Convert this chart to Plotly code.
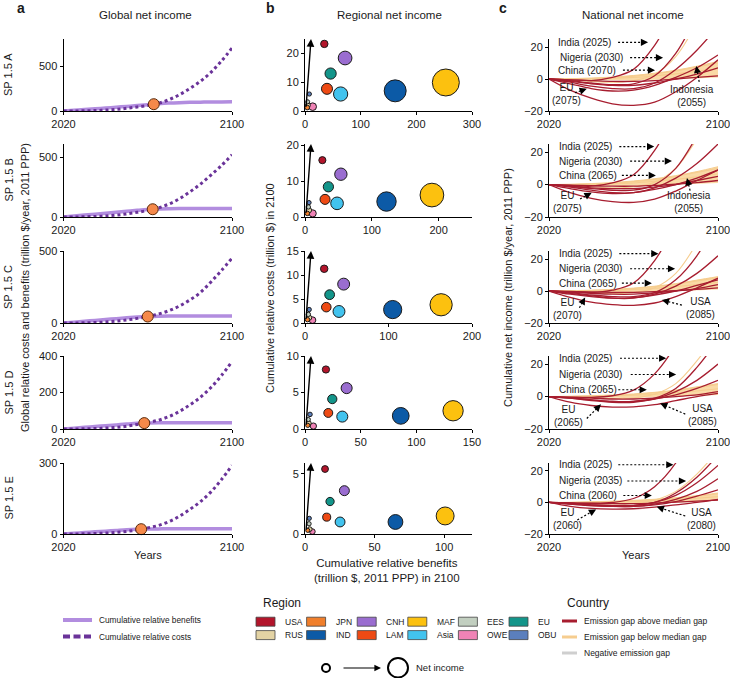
import math
import plotly.graph_objects as go

# ---------------- DATA ----------------
scenarios = ["SP 1.5 A", "SP 1.5 B", "SP 1.5 C", "SP 1.5 D", "SP 1.5 E"]

# Panel a: global cumulative relative benefits / costs (trillion $/yr)
years_a = [2020, 2025, 2030, 2035, 2040, 2045, 2050, 2055, 2060, 2065, 2070, 2075, 2080, 2085, 2090, 2095, 2100]
ben_A = [0, 8, 16, 24, 33, 42, 51, 60, 70, 80, 88, 93, 96, 98, 100, 101, 102]
cost_A = [0, 0.5, 2, 5, 10, 18, 30, 45, 62, 86, 125, 180, 250, 330, 430, 555, 700]
ben_B = [0, 8, 16, 24, 32, 40, 48, 56, 63, 67, 69, 70, 70, 70, 70, 70, 70]
cost_B = [0, 0.5, 1.8, 4.5, 9, 16, 26, 39, 55, 76, 108, 152, 210, 275, 350, 430, 520]
ben_C = [0, 6, 12, 18, 24, 30, 36, 41, 45, 47, 48, 48, 48, 48, 48, 48, 48]
cost_C = [0, 0.4, 1.5, 3.5, 7, 13, 21, 32, 45, 62, 85, 118, 160, 212, 285, 365, 450]
ben_D = [0, 4.5, 9, 13.5, 18, 22.5, 27, 31, 33, 34, 34, 34, 34, 34, 34, 34, 34]
cost_D = [0, 0.3, 1, 2.5, 5, 9, 15, 25, 36, 48, 68, 96, 132, 174, 227, 293, 370]
ben_E = [0, 3, 6, 9, 12, 15, 18, 20, 21, 21.5, 22, 22, 22, 22, 22, 22, 22]
cost_E = [0, 0.2, 0.8, 2, 4, 7, 11, 17, 26, 36, 52, 75, 104, 137, 178, 230, 290]
benefits_a = [ben_A, ben_B, ben_C, ben_D, ben_E]
costs_a = [cost_A, cost_B, cost_C, cost_D, cost_E]
a_ymax = [800, 610, 500, 400, 300]
a_yticks = [[0, 500], [0, 500], [0, 500], [0, 200, 400], [0, 300]]

# Panel b: regional cumulative benefits (x) and costs (y) in 2100
regions = ["USA", "JPN", "CNH", "MAF", "EES", "EU", "RUS", "IND", "LAM", "Asia", "OWE", "OBU"]
region_colors = ["#b3152b", "#f07f2c", "#9a6dd0", "#fcc10f", "#c2cfc0", "#13958a",
                 "#e3d3a4", "#0c5aa6", "#ee4a14", "#42c3ee", "#f083b6", "#5b7fbd"]
b_ben_A = [34.7, 4, 72, 253, 4.8, 46, 5.2, 162, 39.5, 64, 13.8, 7.8]
b_cost_A = [23.3, 1.2, 18.4, 9.9, 3.2, 13, 2.0, 7, 7.7, 5.9, 1.5, 5.9]
b_ben_B = [26, 3.5, 53.7, 190, 5, 35, 6, 122, 30, 48, 11.5, 6]
b_cost_B = [15.8, 1.0, 11.9, 6.1, 2.8, 8.4, 1.9, 4.3, 4.9, 3.8, 1.0, 4.0]
b_ben_C = [23, 3, 46.3, 163, 4, 29.5, 5, 105, 25.5, 40.7, 9, 5]
b_cost_C = [11.3, 0.7, 8.1, 3.8, 1.8, 5.9, 1.1, 2.8, 3.3, 2.4, 0.6, 2.8]
b_ben_D = [18.8, 2.5, 37.4, 133, 3, 24.5, 3.5, 86, 20.9, 33.5, 7.5, 4.5]
b_cost_D = [8.15, 0.5, 5.6, 2.5, 1.3, 4.1, 0.8, 1.8, 2.2, 1.7, 0.4, 2.0]
b_ben_E = [14.4, 2, 28.3, 100.7, 2.9, 18, 3.4, 65, 15.6, 25.2, 5.3, 3.1]
b_cost_E = [5.4, 0.3, 3.6, 1.5, 0.85, 2.7, 0.4, 1.0, 1.4, 1.0, 0.2, 1.3]
b_ben = [b_ben_A, b_ben_B, b_ben_C, b_ben_D, b_ben_E]
b_cost = [b_cost_A, b_cost_B, b_cost_C, b_cost_D, b_cost_E]
b_xmax = [300, 250, 200, 150, 120]
b_xticks = [[0, 100, 200, 300], [0, 100, 200], [0, 100, 200], [0, 50, 100, 150], [0, 50, 100]]
b_ymax = [25, 20.3, 15, 10, 5.9]
b_yticks = [[0, 10, 20], [0, 10, 20], [0, 5, 10, 15], [0, 5, 10], [0, 5]]

# Panel c: national cumulative net income (trillion $/yr)
years_c = [2020, 2030, 2040, 2050, 2060, 2070, 2080, 2090, 2100]
c_red_A = [[0, -0.5, -1, 1, 6, 21, 45, 75, 110],
           [0, -1, -2.5, -3.5, -3, 2, 16, 40, 70],
           [0, -2, -4.5, -6, -6, -2.5, 6, 18, 33],
           [0, -7, -12, -15.5, -16.5, -14.5, -8, 1, 12],
           [0, -3, -6, -7.5, -7, -4, 1, 7, 15],
           [0, -1.5, -3, -4, -4, -2.5, 0, 3, 7],
           [0, -0.5, -1, -1.5, -1.5, -1, 0, 1, 2]]
c_red_B = [[0, -0.5, -1, 1, 6, 21, 45, 75, 110],
           [0, -1, -2.5, -3.5, -3.5, 0, 10, 30, 55],
           [0, -1.5, -3.5, -5, -5, -2, 4, 13, 25],
           [0, -5, -8.5, -10.5, -11, -9, -4, 2.5, 9],
           [0, -2.5, -4.5, -5.5, -5, -3, 0, 4, 9],
           [0, -1, -2, -2.5, -2.5, -1.5, 0, 2.5, 5],
           [0, -0.3, -0.7, -1, -1, -0.5, 0.3, 1.2, 2.5]]
c_red_C = [[0, -0.5, -1, 0.5, 5, 19, 42, 70, 100],
           [0, -1, -2.5, -3.5, -3.5, -1, 7, 22, 45],
           [0, -1.5, -3, -4.5, -4.5, -2, 3, 11, 22],
           [0, -4, -7, -8.5, -9, -7.5, -3.5, 2, 8],
           [0, -2, -3.5, -4.5, -4.2, -2.5, 0, 3.5, 7],
           [0, -0.8, -1.5, -2, -2, -1.2, 0, 1.5, 4],
           [0, -0.3, -0.6, -0.8, -0.8, -0.4, 0.2, 1, 2]]
c_red_D = [[0, -0.3, -0.5, 0.5, 4, 14, 32, 60, 90],
           [0, -0.8, -2, -3, -3, -1, 5, 18, 35],
           [0, -1, -2.5, -3.5, -3.5, -1.5, 3, 10, 20],
           [0, -1, -2, -3, -3, -1.5, 1, 5, 10],
           [0, -3.5, -5.5, -6.5, -6.3, -5, -2.5, 0, 2],
           [0, -0.5, -1, -1.5, -1.5, -1, 0, 1, 3]]
c_red_E = [[0, -0.3, -0.5, 0, 2.5, 10, 25, 50, 80],
           [0, -0.5, -1.5, -2, -2, 0, 6, 16, 30],
           [0, -0.8, -1.5, -2, -1.8, 0, 4.5, 12.5, 23.5],
           [0, -1, -2, -2.5, -2.5, -1, 2, 7, 15],
           [0, -1, -2, -2.5, -2.5, -1.5, 0.5, 4, 8],
           [0, -2.5, -3.8, -4.2, -4, -3, -1.5, 0, 2],
           [0, -0.3, -0.6, -0.8, -0.8, -0.4, 0.2, 0.8, 1.5]]
c_orange_A = [[0, -0.5, -1.5, -2, -1, 3, 14, 35, 60], [0, 0, 0.3, 0.8, 1.8, 3.2, 5, 7.5, 10], [0, 0, 0.2, 0.5, 1, 2, 3.2, 4.8, 6.5]]
c_orange_B = [[0, -0.5, -1.5, -2, -1.5, 1.5, 10, 28, 50], [0, 0, 0.3, 0.8, 1.8, 3.2, 5, 7.5, 10], [0, 0, 0.2, 0.5, 1, 2, 3.2, 4.8, 6.5]]
c_orange_C = [[0, -0.3, -1, -1.5, -1, 2, 11, 30, 55], [0, 0, 0.3, 0.7, 1.5, 2.7, 4.2, 6.2, 8.5], [0, 0, 0.2, 0.4, 0.9, 1.7, 2.8, 4, 5.5]]
c_orange_D = [[0, -0.3, -0.8, -1.2, -0.8, 1.5, 8, 22, 40], [0, 0, 0.3, 0.6, 1.3, 2.3, 3.6, 5.4, 7.5], [0, 0, 0.2, 0.4, 0.8, 1.4, 2.3, 3.4, 4.8]]
c_orange_E = [[0, -0.2, -0.6, -1, -0.6, 1.5, 7, 18, 33], [0, 0, 0.2, 0.5, 1, 1.7, 2.7, 4, 5.5], [0, 0, 0.1, 0.3, 0.6, 1.1, 1.8, 2.7, 3.7]]
c_band_lo = [0, -0.3, -0.6, -0.8, -0.8, -0.5, 0, 0.5, 1]
c_band_hi_A = [0, 0.2, 0.6, 1.2, 2.2, 3.6, 5.5, 8, 11]
c_band_hi_B = [0, 0.2, 0.6, 1.2, 2.2, 3.6, 5.5, 8, 11]
c_band_hi_C = [0, 0.2, 0.5, 1, 1.8, 3, 4.6, 6.8, 9]
c_band_hi_D = [0, 0.2, 0.5, 1, 1.6, 2.6, 4, 6, 8]
c_band_hi_E = [0, 0.1, 0.4, 0.8, 1.3, 2, 3, 4.3, 6]
c_red = [c_red_A, c_red_B, c_red_C, c_red_D, c_red_E]
c_orange = [c_orange_A, c_orange_B, c_orange_C, c_orange_D, c_orange_E]
c_band_hi = [c_band_hi_A, c_band_hi_B, c_band_hi_C, c_band_hi_D, c_band_hi_E]

# Panel c labels: (text, text_x, text_y, tail_x, tail_y, head_x, head_y)
c_notes = [
    [("India (2025)", 2037, 22.9, 2052.7, 22.9, 2066.9, 22.9),
     ("Nigeria (2030)", 2040, 13.3, 2058.4, 13.3, 2074, 13.3),
     ("China (2070)", 2038, 5.5, 2055, 5.5, 2070.2, 5.5),
     ("EU<br>(2075)", 2028.5, -9.4, 2032.3, -8.6, 2037.9, -6.1),
     ("Indonesia<br>(2055)", 2087.6, -10.6, 2091.1, -1.8, 2089.7, 8.2)],
    [("India (2025)", 2037.4, 23.4, 2053.3, 23.4, 2069.8, 23.4),
     ("Nigeria (2030)", 2039.8, 14.5, 2058.4, 14.5, 2078.2, 14.5),
     ("China (2065)", 2038.6, 5.6, 2054.5, 5.6, 2070.6, 5.6),
     ("EU<br>(2075)", 2028.8, -10.6, 2034.7, -8.9, 2040.2, -5.1),
     ("Indonesia<br>(2055)", 2086.5, -10.6, 2086.8, -3.7, 2085.3, 4)],
    [("India (2025)", 2037.4, 23.3, 2053.3, 23.3, 2071.8, 23.3),
     ("Nigeria (2030)", 2039.8, 13.9, 2058.4, 13.9, 2079.7, 13.9),
     ("China (2065)", 2038.6, 4.9, 2054.5, 4.9, 2068.7, 4.9),
     ("EU<br>(2070)", 2028.7, -11.2, 2034.4, -10.5, 2037.1, -4),
     ("USA<br>(2085)", 2091.7, -10.8, 2082.9, -8.8, 2073.4, -5.7)],
    [("India (2025)", 2037.4, 23.6, 2053.6, 23.6, 2075.5, 23.6),
     ("Nigeria (2030)", 2039.8, 13.6, 2058.7, 13.6, 2080.2, 13.6),
     ("China (2065)", 2038.3, 4.2, 2052.8, 4.2, 2066.3, 4.2),
     ("EU<br>(2065)", 2029.3, -11.9, 2037.9, -13.5, 2044.6, -4.8),
     ("USA<br>(2085)", 2092.6, -11.1, 2084.5, -10.8, 2072.6, -4.2)],
    [("India (2025)", 2037.4, 23.9, 2052.8, 23.9, 2078.9, 23.9),
     ("Nigeria (2035)", 2039.8, 13.6, 2057.1, 13.6, 2084.9, 13.6),
     ("China (2060)", 2038.3, 4.4, 2055.2, 4.4, 2068.7, 4.4),
     ("EU<br>(2060)", 2028.9, -10.8, 2033.4, -11.1, 2042.3, -4.4),
     ("USA<br>(2080)", 2092, -10.4, 2084.5, -8.6, 2071, -2.8)],
]

# ---------------- STYLE / LAYOUT ----------------
W, H = 730, 678
FONT = "Liberation Sans, Arial, sans-serif"
TXT = "#1a1a1a"
BEN_COLOR = "#b28ddf"
COST_COLOR = "#6a3399"
MARK_COLOR = "#f5894a"
RED = "#a71d2f"
ORANGE = "#f6cd8f"
BAND = "rgba(249,212,150,0.85)"
GREY = "#cfcfcf"


def pxx(p):
    return p / W


def pxy(p):
    return 1 - p / H


XDOM = [(63.5, 232), (305, 472), (549, 718)]
ROWS = [(39, 111), (144, 217), (251, 323), (356, 429), (463, 534)]


def aid(n):
    return "" if n == 1 else str(n)


fig = go.Figure()
layout = dict(width=W, height=H, margin=dict(l=0, r=0, t=0, b=0, pad=0, autoexpand=False),
              paper_bgcolor="white", plot_bgcolor="white", showlegend=False,
              font=dict(family=FONT, size=11, color=TXT))
annotations = []
shapes = []

axis_base = dict(showline=True, linecolor="black", linewidth=1, ticks="outside",
                 ticklen=3, tickwidth=1, tickcolor="black", showgrid=False,
                 zeroline=False, automargin=False, ticklabeloverflow="allow",
                 tickfont=dict(size=11, color=TXT))


def set_axes(n, panel, row, xr, xt, yr, yt):
    x0, x1 = XDOM[panel]
    t, b = ROWS[row]
    layout["xaxis" + aid(n)] = dict(axis_base, domain=[pxx(x0), pxx(x1)], anchor="y" + aid(n),
                                   range=xr, tickvals=xt)
    layout["yaxis" + aid(n)] = dict(axis_base, domain=[pxy(b), pxy(t)], anchor="x" + aid(n),
                                   range=yr, tickvals=yt)


def crossing(years, ben, cost):
    for i in range(2, len(years)):
        d0 = ben[i - 1] - cost[i - 1]
        d1 = ben[i] - cost[i]
        if d0 > 0 >= d1:
            f = d0 / (d0 - d1)
            return (years[i - 1] + f * (years[i] - years[i - 1]),
                    ben[i - 1] + f * (ben[i] - ben[i - 1]))
    return years[-1], ben[-1]


# Panel a
for r in range(5):
    n = r + 1
    set_axes(n, 0, r, [2020, 2100], [2020, 2100], [0, a_ymax[r]], a_yticks[r])
    xa, ya = "x" + aid(n), "y" + aid(n)
    fig.add_trace(go.Scatter(x=years_a, y=benefits_a[r], mode="lines", xaxis=xa, yaxis=ya,
                             line=dict(color=BEN_COLOR, width=3.5, shape="spline")))
    fig.add_trace(go.Scatter(x=years_a, y=costs_a[r], mode="lines", xaxis=xa, yaxis=ya,
                             line=dict(color=COST_COLOR, width=3, dash="3px,3px", shape="spline")))
    cx, cy = crossing(years_a, benefits_a[r], costs_a[r])
    fig.add_trace(go.Scatter(x=[cx], y=[cy], mode="markers", xaxis=xa, yaxis=ya, cliponaxis=False,
                             marker=dict(color=MARK_COLOR, size=11, line=dict(color="#5a2a0a", width=1))))

# Panel b
net_all = [max(bx - cy, 0) for r in range(5) for bx, cy in zip(b_ben[r], b_cost[r])]
NET_MAX = max(net_all)
for r in range(5):
    n = 6 + r
    set_axes(n, 1, r, [0, b_xmax[r]], b_xticks[r], [0, b_ymax[r]], b_yticks[r])
    xa, ya = "x" + aid(n), "y" + aid(n)
    nets = [max(bx - cy, 0) for bx, cy in zip(b_ben[r], b_cost[r])]
    sizes = [2 + 25 * math.sqrt(v / NET_MAX) for v in nets]
    order = sorted(range(len(regions)), key=lambda i: -sizes[i])
    fig.add_trace(go.Scatter(x=[b_ben[r][i] for i in order], y=[b_cost[r][i] for i in order],
                             mode="markers", xaxis=xa, yaxis=ya, cliponaxis=False,
                             text=[regions[i] for i in order],
                             marker=dict(size=[sizes[i] for i in order],
                                         color=[region_colors[i] for i in order],
                                         opacity=1, line=dict(color="#1a1a1a", width=1))))
    annotations.append(dict(x=0.036 * b_xmax[r], y=b_ymax[r], xref=xa, yref=ya,
                            ax=0.006 * b_xmax[r], ay=0.04 * b_ymax[r], axref=xa, ayref=ya,
                            text="", showarrow=True, arrowhead=2, arrowsize=1.1,
                            arrowwidth=1.4, arrowcolor="black"))

# Panel c
for r in range(5):
    n = 11 + r
    set_axes(n, 2, r, [2020, 2100], [2020, 2100], [-20, 25], [-20, 0, 20])
    xa, ya = "x" + aid(n), "y" + aid(n)
    fig.add_trace(go.Scatter(x=years_c, y=c_band_lo, mode="lines", xaxis=xa, yaxis=ya,
                             line=dict(width=0, color=ORANGE, shape="spline")))
    fig.add_trace(go.Scatter(x=years_c, y=c_band_hi[r], mode="lines", xaxis=xa, yaxis=ya,
                             fill="tonexty", fillcolor=BAND,
                             line=dict(width=1, color=ORANGE, shape="spline")))
    for ys in c_orange[r]:
        fig.add_trace(go.Scatter(x=years_c, y=ys, mode="lines", xaxis=xa, yaxis=ya,
                                 line=dict(width=1.1, color=ORANGE, shape="spline")))
    for ys in c_red[r]:
        fig.add_trace(go.Scatter(x=years_c, y=ys, mode="lines", xaxis=xa, yaxis=ya,
                                 line=dict(width=1.3, color=RED, shape="spline")))
    t, b = ROWS[r]
    ppu_y = (b - t) / 45.0
    ppu_x = (XDOM[2][1] - XDOM[2][0]) / 80.0
    for (txt, tx, ty, sx, sy, hx, hy) in c_notes[r]:
        annotations.append(dict(x=tx, y=ty, xref=xa, yref=ya, text=txt, showarrow=False,
                                font=dict(size=10, color=TXT)))
        L = math.hypot((hx - sx) * ppu_x, (hy - sy) * ppu_y)
        f = min(1.0, 6.0 / L) if L > 0 else 1.0
        mx, my = hx - (hx - sx) * f, hy - (hy - sy) * f
        shapes.append(dict(type="line", xref=xa, yref=ya, x0=sx, y0=sy, x1=mx, y1=my,
                           line=dict(color="black", width=1.2, dash="2px,2px")))
        annotations.append(dict(x=hx, y=hy, xref=xa, yref=ya, ax=mx, ay=my, axref=xa, ayref=ya,
                                text="", showarrow=True, arrowhead=2, arrowsize=1.2,
                                arrowwidth=1.2, arrowcolor="black"))


def ptext(x, y, text, size=11, anchor="center", angle=0, bold=False, yanchor="middle"):
    annotations.append(dict(x=pxx(x), y=pxy(y), xref="paper", yref="paper", text=text,
                            showarrow=False, xanchor=anchor, yanchor=yanchor, textangle=angle,
                            font=dict(size=size, color=TXT, family=FONT)))


# titles and panel letters
ptext(145, 15, "Global net income", 11.5)
ptext(389, 15, "Regional net income", 11.5)
ptext(633, 15, "National net income", 11.5)
ptext(21, 8, "<b>a</b>", 14)
ptext(270, 8, "<b>b</b>", 14)
ptext(503, 8, "<b>c</b>", 14)
for r, s in enumerate(scenarios):
    t, b = ROWS[r]
    ptext(8, (t + b) / 2, s, 11, angle=-90)
ptext(25, 288, "Global relative costs and benefits (trillion $/year, 2011 PPP)", 11, angle=-90)
ptext(270, 288, "Cumulative relative costs (trillion $) in 2100", 11, angle=-90)
ptext(508, 288, "Cumulative net income (trillion $/year, 2011 PPP)", 11, angle=-90)
ptext(148, 555, "Years", 11)
ptext(636, 555, "Years", 11)
ptext(387, 570, "Cumulative relative benefits<br>(trillion $, 2011 PPP) in 2100", 11.5)

# Panel a legend
shapes.append(dict(type="line", xref="paper", yref="paper", x0=pxx(63), x1=pxx(92), y0=pxy(620), y1=pxy(620),
                   line=dict(color=BEN_COLOR, width=4)))
shapes.append(dict(type="line", xref="paper", yref="paper", x0=pxx(63), x1=pxx(92), y0=pxy(636.5), y1=pxy(636.5),
                   line=dict(color=COST_COLOR, width=4, dash="7px,3.5px")))
ptext(97, 620, "Cumulative relative benefits", 8.3, anchor="left")
ptext(97, 636.5, "Cumulative relative costs", 8.3, anchor="left")

# Region legend
ptext(261, 603, "Region", 12, anchor="left")
for i, (reg, col) in enumerate(zip(regions, region_colors)):
    rowi, coli = (0, i) if i < 6 else (1, i - 6)
    x0 = 256 + 50.6 * coli
    yc = 621.7 + 13.4 * rowi
    shapes.append(dict(type="rect", xref="paper", yref="paper", x0=pxx(x0), x1=pxx(x0 + 19),
                       y0=pxy(yc + 4.5), y1=pxy(yc - 4.5), fillcolor=col,
                       line=dict(color="#444", width=0.8)))
    ptext(x0 + 27, yc, reg, 8.5, anchor="left")

# Net income size legend
shapes.append(dict(type="circle", xref="paper", yref="paper", x0=pxx(322), x1=pxx(330),
                   y0=pxy(672), y1=pxy(664), line=dict(color="black", width=2), fillcolor="white"))
shapes.append(dict(type="circle", xref="paper", yref="paper", x0=pxx(388), x1=pxx(408),
                   y0=pxy(677.5), y1=pxy(658), line=dict(color="black", width=2), fillcolor="white"))
annotations.append(dict(x=pxx(381), y=pxy(668), xref="paper", yref="paper", ax=-39, ay=0,
                        text="", showarrow=True, arrowhead=2, arrowsize=1.1, arrowwidth=1.2,
                        arrowcolor="black"))
ptext(414, 667, "Net income", 9.5, anchor="left")

# Country legend
ptext(565, 603, "Country", 12, anchor="left")
for yy, col, lab in [(621, RED, "Emission gap above median gap"),
                     (637, ORANGE, "Emission gap below median gap"),
                     (653, GREY, "Negative emission gap")]:
    shapes.append(dict(type="line", xref="paper", yref="paper", x0=pxx(562), x1=pxx(577),
                       y0=pxy(yy), y1=pxy(yy), line=dict(color=col, width=3)))
    ptext(582, yy, lab, 8.5, anchor="left")

layout["annotations"] = annotations
layout["shapes"] = shapes
fig.update_layout(**layout)
fig.write_html("out.html", config={"displayModeBar": False, "staticPlot": True},
               post_script="document.body.style.margin='0';document.body.style.padding='0';"
                           "document.body.style.overflow='hidden';")
